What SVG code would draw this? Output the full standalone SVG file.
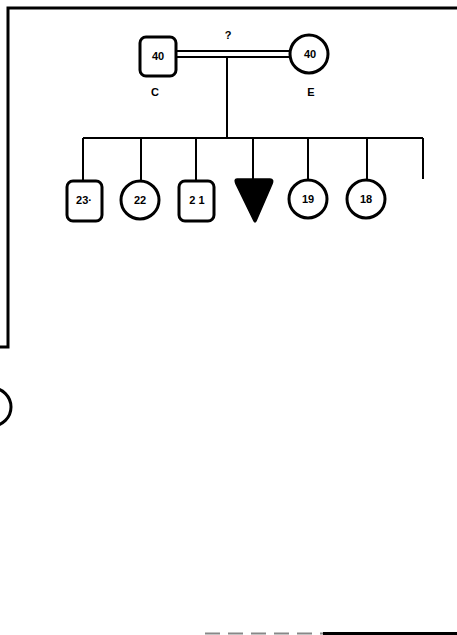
<svg xmlns="http://www.w3.org/2000/svg" width="457" height="635" viewBox="0 0 457 635">
<style>
.node{fill:none;stroke:#000;stroke-width:3}
.lbl{font-family:"Liberation Sans",Arial,sans-serif;font-weight:bold;font-size:11px;text-anchor:middle;fill:#000}
.ln{stroke:#000;stroke-width:2;fill:none}
</style>
<rect width="457" height="635" fill="#fff"/>
<g id="frame">
<path d="M457,8 H8 V347 H0" fill="none" stroke="#000" stroke-width="3"/>
<circle cx="-8" cy="407" r="19" class="node"/>
<line x1="205" y1="633.5" x2="323" y2="633.5" stroke="#888" stroke-width="2" stroke-dasharray="15,8"/>
<line x1="323" y1="633.5" x2="457" y2="633.5" stroke="#000" stroke-width="3"/>
</g>
<g id="connectors">
<line x1="176" y1="51" x2="290" y2="51" class="ln" stroke-width="1.8"/>
<line x1="176" y1="57" x2="290" y2="57" class="ln" stroke-width="1.8"/>
<line x1="227" y1="57" x2="227" y2="138" class="ln"/>
<line x1="83" y1="138" x2="423" y2="138" class="ln"/>
<line x1="83" y1="138" x2="83" y2="180" class="ln"/>
<line x1="141" y1="138" x2="141" y2="180" class="ln"/>
<line x1="196" y1="138" x2="196" y2="180" class="ln"/>
<line x1="253" y1="138" x2="253" y2="179" class="ln"/>
<line x1="308" y1="138" x2="308" y2="180" class="ln"/>
<line x1="367" y1="138" x2="367" y2="180" class="ln"/>
<line x1="423" y1="138" x2="423" y2="179" class="ln"/>
<text x="228" y="39" class="lbl" font-size="12">?</text>
</g>
<g id="C">
<rect x="140" y="37" width="36" height="39" rx="6" class="node"/>
<text x="158" y="60" class="lbl">40</text>
<text x="155" y="96" class="lbl">C</text>
</g>
<g id="E">
<circle cx="309" cy="54" r="19" class="node"/>
<text x="310" y="58" class="lbl">40</text>
<text x="311" y="96" class="lbl">E</text>
</g>
<g id="c23">
<rect x="67" y="181" width="35" height="40" rx="6" class="node"/>
<text x="84" y="204" class="lbl">23·</text>
</g>
<g id="c22">
<circle cx="140" cy="200" r="19" class="node"/>
<text x="140" y="204" class="lbl">22</text>
</g>
<g id="c21">
<rect x="179" y="181" width="35" height="40" rx="6" class="node"/>
<text x="197" y="204" class="lbl">2 1</text>
</g>
<g id="c20">
<path d="M237,179 H270 Q274,179 272,184 L256,221 Q255,223 254,221 L236,184 Q234,179 237,179 Z" fill="#000" stroke="#000" stroke-width="1.5"/>
</g>
<g id="c19">
<circle cx="308" cy="199" r="19" class="node"/>
<text x="308" y="203" class="lbl">19</text>
</g>
<g id="c18">
<circle cx="366" cy="199" r="19" class="node"/>
<text x="366" y="203" class="lbl">18</text>
</g>
</svg>
